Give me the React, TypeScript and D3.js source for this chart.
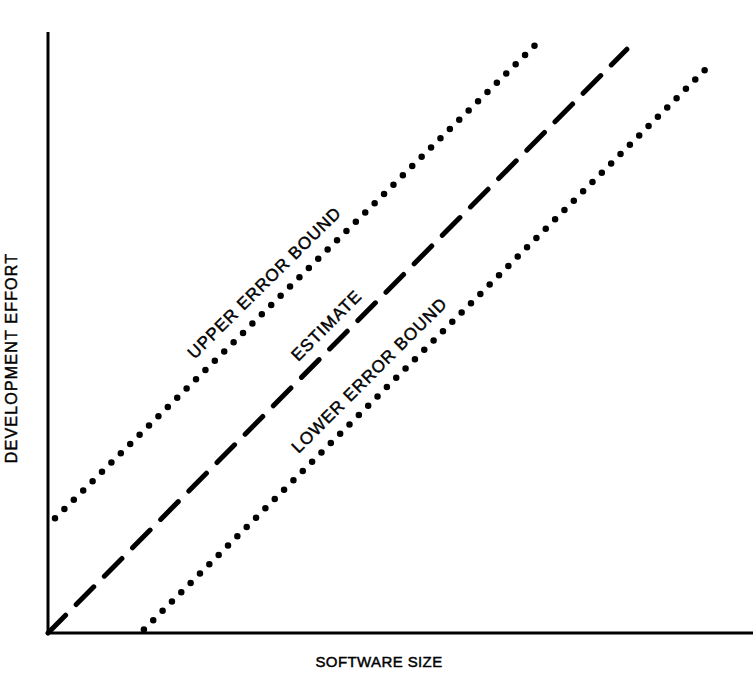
import React from "react";
import * as d3 from "d3";

// ---- data (units: arbitrary size / effort) ----
const upperBound = [
  { x: 1.0, y: 16.4 },
  { x: 70.3, y: 84.7 },
];
const estimate = [
  { x: 0, y: 0 },
  { x: 82.7, y: 83.4 },
];
const lowerBound = [
  { x: 13.7, y: 0.5 },
  { x: 94.7, y: 81.3 },
];
const seriesNames = ["UPPER ERROR BOUND", "ESTIMATE", "LOWER ERROR BOUND"];
const labelAt = [33.0, 41.7, 48.0]; // x-position (data) along each line where its label is centred
const xTitle = "SOFTWARE SIZE";
const yTitle = "DEVELOPMENT EFFORT";

const W = 753;
const H = 675;

export default function App() {
  const x = d3.scaleLinear().domain([0, 100]).range([48, 748]);
  const y = d3.scaleLinear().domain([0, 85]).range([633, 38]);
  const line = d3
    .line<{ x: number; y: number }>()
    .x((d) => x(d.x))
    .y((d) => y(d.y));

  const series = [upperBound, estimate, lowerBound];
  const styles = [
    { dash: "0 13.2", width: 6.5 },
    { dash: "25 15", width: 5 },
    { dash: "0 13.2", width: 6.5 },
  ];
  const perp = [15, 13, 15];
  const font = "'Liberation Sans', Arial, sans-serif";
  const textStyle = {
    fontFamily: font,
    fill: "#000",
    stroke: "#000",
    strokeWidth: 0.45,
  } as const;

  return (
    <svg width={W} height={H} style={{ position: "absolute", left: 0, top: 0, background: "#fff" }}>
      <rect width={W} height={H} fill="#fff" />
      {/* axes */}
      <line x1={x(0)} y1={y(0)} x2={x(0)} y2={32} stroke="#000" strokeWidth={3} />
      <line x1={x(0) - 1.5} y1={y(0)} x2={W} y2={y(0)} stroke="#000" strokeWidth={3} />
      {series.map((s, i) => (
        <path
          key={i}
          d={line(s) || ""}
          fill="none"
          stroke="#000"
          strokeWidth={styles[i].width}
          strokeDasharray={styles[i].dash}
          strokeLinecap="round"
        />
      ))}
      {series.map((s, i) => {
        const [a, b] = s;
        const t = (labelAt[i] - a.x) / (b.x - a.x);
        const px = x(a.x + t * (b.x - a.x));
        const py = y(a.y + t * (b.y - a.y));
        const ang = (Math.atan2(y(b.y) - y(a.y), x(b.x) - x(a.x)) * 180) / Math.PI;
        const rad = (ang * Math.PI) / 180;
        const ox = px + Math.sin(rad) * perp[i];
        const oy = py - Math.cos(rad) * perp[i];
        return (
          <text
            key={i}
            x={0}
            y={0}
            transform={`translate(${ox},${oy}) rotate(${ang})`}
            textAnchor="middle"
            fontSize={17}
            letterSpacing={1}
            {...textStyle}
          >
            {seriesNames[i]}
          </text>
        );
      })}
      <text x={379} y={667} textAnchor="middle" fontSize={15} letterSpacing={0.4} {...textStyle}>
        {xTitle}
      </text>
      <text
        transform={`translate(17,358) rotate(-90)`}
        textAnchor="middle"
        fontSize={16}
        letterSpacing={1.2}
        {...textStyle}
      >
        {yTitle}
      </text>
    </svg>
  );
}
